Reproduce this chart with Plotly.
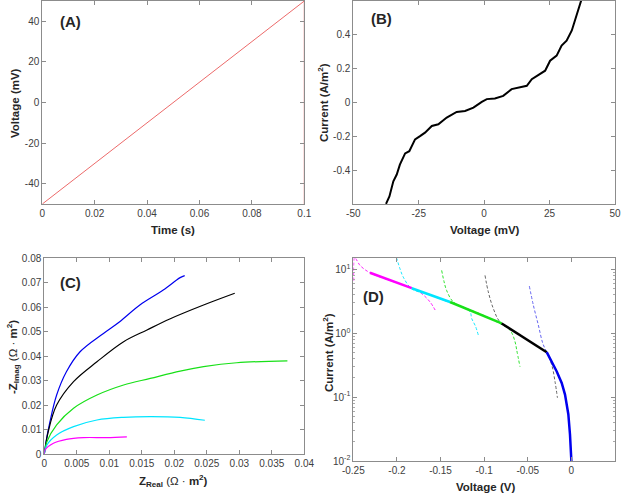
import plotly.graph_objects as go
import math

# ---------------- data ----------------
# Panel A: triangular voltage sweep
a_time_s = [0, 0.1, 0.1]
a_voltage_mV = [-50, 50, -50]

# Panel B: current vs voltage
b_voltage_mV = [-37.5, -36.2, -34.7, -33.4, -32.2, -30.2, -28.6, -26.4, -24.5, -22.6, -20.0, -17.5,
                -14.3, -10.5, -7.3, -4.1, -0.9, 1.0, 4.1, 7.3, 10.5, 13.7, 16.3, 18.2, 20.7, 23.3,
                25.2, 27.7, 29.6, 31.5, 33.5, 34.7, 36.0, 37.3]
b_current = [-0.599, -0.555, -0.466, -0.426, -0.367, -0.301, -0.288, -0.218, -0.199, -0.178, -0.139,
             -0.129, -0.089, -0.056, -0.050, -0.030, 0.004, 0.020, 0.024, 0.039, 0.079, 0.089, 0.099,
             0.138, 0.162, 0.188, 0.247, 0.277, 0.336, 0.366, 0.426, 0.485, 0.535, 0.614]

# Panel C: Nyquist plots
c_blue_re = [0, 0.0001, 0.00087, 0.0019, 0.0034, 0.0055, 0.0091, 0.0116, 0.0147, 0.0183, 0.0209, 0.0216]
c_blue_im = [0, 0.0023, 0.0132, 0.0241, 0.0336, 0.0418, 0.0493, 0.0541, 0.0609, 0.0670, 0.0721, 0.0729]
c_black_re = [0, 0.0006, 0.0019, 0.0045, 0.0081, 0.0122, 0.0158, 0.0193, 0.0245, 0.0293]
c_black_im = [0, 0.0091, 0.0200, 0.0296, 0.0377, 0.0459, 0.0507, 0.0552, 0.0609, 0.0657]
c_green_re = [0, 0.0004, 0.0019, 0.0045, 0.0081, 0.0122, 0.0163, 0.0209, 0.0245, 0.0296, 0.0374]
c_green_im = [0, 0.0050, 0.0119, 0.0187, 0.0241, 0.0282, 0.0309, 0.0339, 0.0357, 0.0373, 0.0381]
c_cyan_re = [0, 0.0004, 0.0019, 0.0045, 0.0081, 0.0122, 0.0163, 0.0209, 0.0247]
c_cyan_im = [0, 0.0037, 0.0078, 0.0112, 0.0139, 0.0150, 0.0153, 0.0150, 0.0138]
c_magenta_re = [0, 0.0001, 0.0014, 0.0034, 0.0060, 0.0096, 0.0127]
c_magenta_im = [0, 0.0016, 0.0044, 0.0060, 0.0067, 0.0067, 0.0070]

# Panel D: polarization curve (solid segments)
d_magenta_v = [-0.2309, -0.208, -0.183]
d_magenta_i = [8.9, 6.75, 5.1]
d_cyan_v = [-0.183, -0.162, -0.1391]
d_cyan_i = [5.1, 4.04, 3.1]
d_green_v = [-0.1391, -0.1162, -0.097, -0.0799]
d_green_i = [3.1, 2.3, 1.81, 1.43]
d_black_v = [-0.0799, -0.0589, -0.0436, -0.0283]
d_black_i = [1.43, 0.94, 0.70, 0.507]
d_blue_v = [-0.0283, -0.0225, -0.0168, -0.0111, -0.0073, -0.0035, -0.0016, 0.0]
d_blue_i = [0.507, 0.36, 0.253, 0.167, 0.11, 0.054, 0.026, 0.01]

# Panel D: model curves (dashed)
dd_magenta_v = [-0.2495, -0.2495, -0.2485, -0.242, -0.2309, -0.208, -0.183, -0.1716, -0.162, -0.155]
dd_magenta_i = [6.7, 12.4, 15.5, 11.5, 8.9, 6.75, 5.1, 4.19, 3.1, 2.17]
dd_cyan_v = [-0.2005, -0.1965, -0.1927, -0.183, -0.162, -0.14, -0.13, -0.1162, -0.1143, -0.11, -0.1067]
dd_cyan_i = [15.5, 10.3, 7.6, 5.0, 4.0, 3.05, 2.75, 2.17, 1.71, 1.3, 0.94]
dd_green_v = [-0.1487, -0.146, -0.143, -0.1353, -0.12, -0.1, -0.085, -0.0703, -0.0646, -0.0627, -0.0589]
dd_green_i = [9.7, 6.5, 4.7, 3.1, 2.45, 1.9, 1.5, 1.12, 0.74, 0.55, 0.30]
dd_black_v = [-0.099, -0.0952, -0.0895, -0.0818, -0.06, -0.04, -0.028, -0.0225, -0.0188, -0.016]
dd_black_i = [8.1, 4.44, 2.45, 1.51, 0.95, 0.64, 0.48, 0.32, 0.177, 0.098]
dd_blue_v = [-0.0482, -0.0436, -0.0379, -0.0328, -0.0283, -0.0225, -0.0168]
dd_blue_i = [5.5, 2.76, 1.35, 0.70, 0.507, 0.36, 0.253]

# tick labels
a_xticks = [0, 0.02, 0.04, 0.06, 0.08, 0.1]
a_xtext = ["0", "0.02", "0.04", "0.06", "0.08", "0.1"]
a_yticks = [-40, -20, 0, 20, 40]
a_ytext = ["-40", "-20", "0", "20", "40"]
b_xticks = [-50, -25, 0, 25, 50]
b_xtext = ["-50", "-25", "0", "25", "50"]
b_yticks = [-0.4, -0.2, 0, 0.2, 0.4]
b_ytext = ["-0.4", "-0.2", "0", "0.2", "0.4"]
c_xticks = [0, 0.005, 0.01, 0.015, 0.02, 0.025, 0.03, 0.035, 0.04]
c_xtext = ["0", "0.005", "0.01", "0.015", "0.02", "0.025", "0.03", "0.035", "0.04"]
c_yticks = [0, 0.01, 0.02, 0.03, 0.04, 0.05, 0.06, 0.07, 0.08]
c_ytext = ["0", "0.01", "0.02", "0.03", "0.04", "0.05", "0.06", "0.07", "0.08"]
d_xticks = [-0.25, -0.2, -0.15, -0.1, -0.05, 0, 0.05]
d_xtext = ["-0.25", "-0.2", "-0.15", "-0.1", "-0.05", "0", "0.05"]
d_yticks = [0.01, 0.1, 1, 10]
d_ytext = ["10<sup>-2</sup>", "10<sup>-1</sup>", "10<sup>0</sup>", "10<sup>1</sup>"]
d_yminor = [0.02, 0.03, 0.04, 0.05, 0.06, 0.07, 0.08, 0.09,
            0.2, 0.3, 0.4, 0.5, 0.6, 0.7, 0.8, 0.9,
            2, 3, 4, 5, 6, 7, 8, 9]

# ---------------- figure ----------------
W, H = 625, 493
FONT = "Arial, 'Liberation Sans', sans-serif"
MAG, CYA, GRN, BLK, BLU = "#ff00ff", "#00e5ff", "#18e018", "#000000", "#0000ee"

fig = go.Figure()

def line(x, y, color, width, ax, dash=None, shape="linear"):
    fig.add_trace(go.Scatter(x=x, y=y, mode="lines", xaxis="x" + ax, yaxis="y" + ax,
                             line=dict(color=color, width=width, dash=dash, shape=shape),
                             showlegend=False, hoverinfo="skip"))

line(a_time_s, a_voltage_mV, "#ec6a6a", 1, "")
line(b_voltage_mV, b_current, "#000000", 2, "2")

line(c_blue_re, c_blue_im, BLU, 1.2, "3", shape="spline")
line(c_black_re, c_black_im, BLK, 1.2, "3", shape="spline")
line(c_green_re, c_green_im, GRN, 1.2, "3", shape="spline")
line(c_cyan_re, c_cyan_im, CYA, 1.2, "3", shape="spline")
line(c_magenta_re, c_magenta_im, MAG, 1.2, "3", shape="spline")

for v, i, c in [(dd_magenta_v, dd_magenta_i, MAG), (dd_cyan_v, dd_cyan_i, CYA),
                (dd_green_v, dd_green_i, GRN), (dd_black_v, dd_black_i, "#555555"),
                (dd_blue_v, dd_blue_i, "#5555ee")]:
    line(v, i, c, 0.9, "4", dash="3px,2px", shape="spline")
for v, i, c in [(d_magenta_v, d_magenta_i, MAG), (d_cyan_v, d_cyan_i, CYA),
                (d_green_v, d_green_i, GRN), (d_black_v, d_black_i, BLK),
                (d_blue_v, d_blue_i, BLU)]:
    line(v, i, c, 2.5, "4")

def dom_x(l, r):
    return [l / W, r / W]

def dom_y(t, b):
    return [1 - b / H, 1 - t / H]

def axis(domain, rng, tv, tt, anchor, **kw):
    d = dict(domain=domain, range=rng, tickvals=tv, ticktext=tt, anchor=anchor,
             showline=True, linecolor="#8c8c8c", linewidth=1, mirror="ticks",
             ticks="inside", ticklen=4, tickcolor="#8c8c8c", showgrid=False, zeroline=False,
             automargin=False,
             tickfont=dict(family=FONT, size=10, color="#404040"))
    d.update(kw)
    return d

fig.update_layout(
    width=W, height=H, margin=dict(l=0, r=0, t=0, b=0, autoexpand=False),
    paper_bgcolor="white", plot_bgcolor="white", showlegend=False,
    xaxis=axis(dom_x(42.3, 304.3), [0, 0.1], a_xticks, a_xtext, "y"),
    yaxis=axis(dom_y(1, 204), [-50, 50], a_yticks, a_ytext, "x"),
    xaxis2=axis(dom_x(353.3, 615), [-50, 50], b_xticks, b_xtext, "y2"),
    yaxis2=axis(dom_y(1, 204), [-0.6, 0.6], b_yticks, b_ytext, "x2"),
    xaxis3=axis(dom_x(44.3, 304.3), [0, 0.04], c_xticks, c_xtext, "y3"),
    yaxis3=axis(dom_y(258.3, 454), [0, 0.08], c_yticks, c_ytext, "x3"),
    xaxis4=axis(dom_x(353.3, 615), [-0.25, 0.05], d_xticks, d_xtext, "y4"),
    yaxis4=axis(dom_y(258.3, 461), [-2, math.log10(15)], d_yticks, d_ytext, "x4", type="log",
                minor=dict(tickvals=d_yminor, ticks="inside", ticklen=2, tickcolor="#aaaaaa",
                           showgrid=False)),
)

def ann(text, px, py, size=11.5, angle=0):
    fig.add_annotation(text=text, x=px / W, y=1 - py / H, xref="paper", yref="paper",
                       showarrow=False, textangle=angle, xanchor="center", yanchor="middle",
                       font=dict(family=FONT, size=size, color="#262626"))

# panel labels
ann("<b>(A)</b>", 70, 22, 15)
ann("<b>(B)</b>", 381, 19, 15)
ann("<b>(C)</b>", 70, 282, 15)
ann("<b>(D)</b>", 373, 296, 15)

# axis titles
ann("<b>Time (s)</b>", 173, 230)
ann("<b>Voltage (mV)</b>", 15, 103, angle=-90)
ann("<b>Voltage (mV)</b>", 485, 230)
ann("<b>Current (A/m<sup>2</sup>)</b>", 323, 103, angle=-90)
ann("<b>Z<sub>Real</sub></b> (Ω · <b>m<sup>2</sup>)</b>", 173, 481)
ann("<b>-Z<sub>Imag</sub></b> (Ω · <b>m<sup>2</sup>)</b>", 13, 357, angle=-90)
ann("<b>Voltage (V)</b>", 485, 487)
ann("<b>Current (A/m<sup>2</sup>)</b>", 328, 353, angle=-90)

fig.write_html("out.html", config={"displayModeBar": False},
               post_script="document.body.style.margin='0px';")
